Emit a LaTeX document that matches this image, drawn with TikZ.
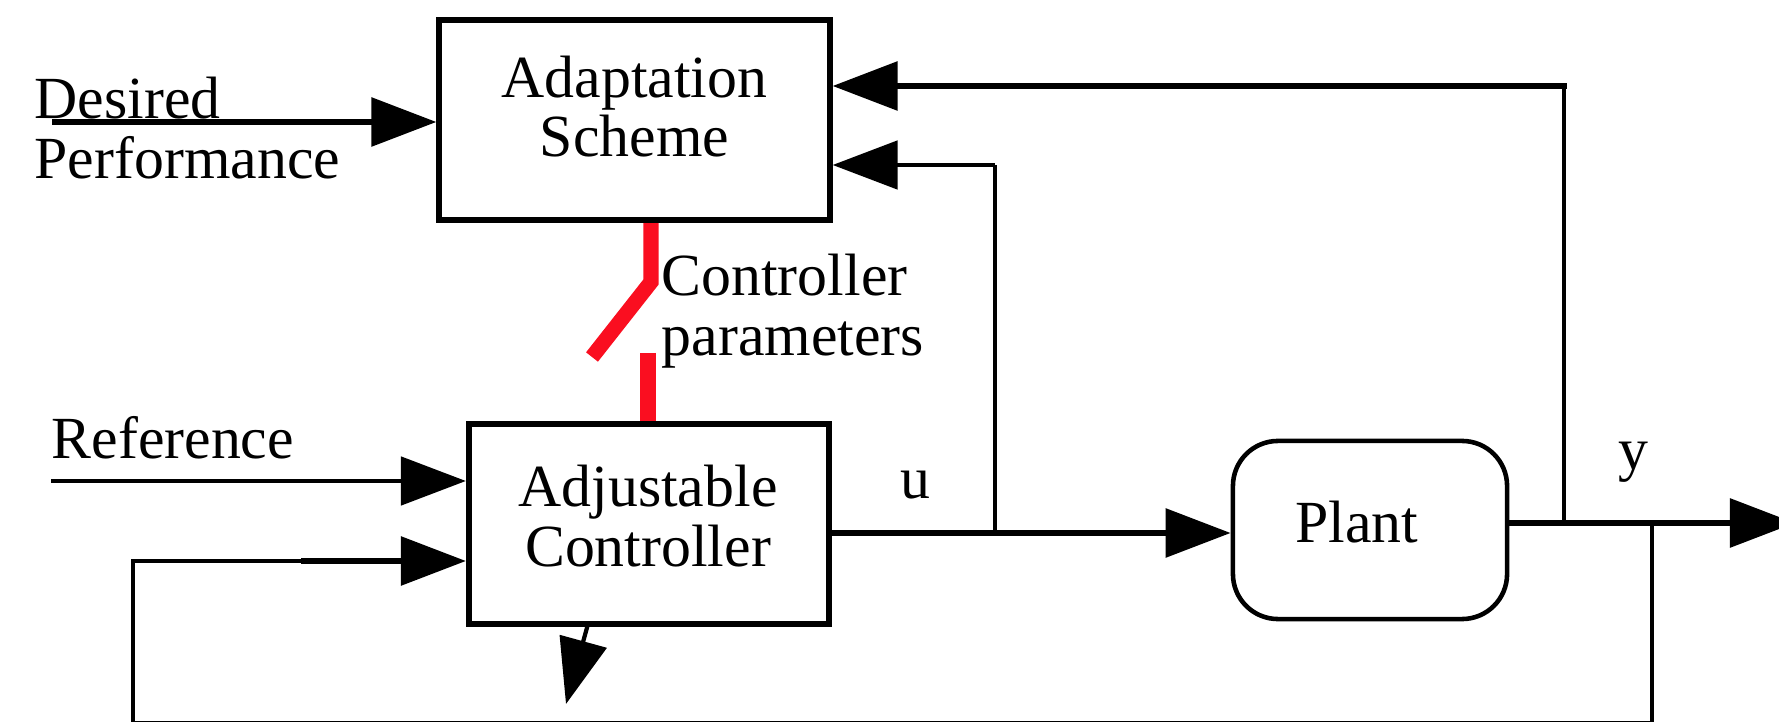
\documentclass[tikz,border=0pt]{standalone}
\usepackage{fontspec}
\setmainfont{Liberation Serif}
\usetikzlibrary{arrows.meta}
\definecolor{switchred}{RGB}{250,14,32}
\begin{document}
\begin{tikzpicture}[x=0.01cm,y=-0.01cm,
  every node/.style={inner sep=0pt, font=\fontsize{17}{17}\selectfont},
  >={Triangle[length=6.5mm,width=4.8mm]},
  blockbox/.style={draw, line width=1.7pt, minimum width=3.9cm, minimum height=2cm},
  plantbox/.style={draw, line width=1.3pt, rounded corners=0.45cm,
    minimum width=2.74cm, minimum height=1.78cm},
  heavy/.style={line width=1.7pt},
  medium/.style={line width=1.4pt},
  light/.style={line width=1.2pt},
  redline/.style={draw=switchred, line width=4.3pt, line cap=butt}
]
\useasboundingbox[fill=white] (0,0) rectangle (1779,722);

% blocks
\node[blockbox] (adapt) at (634.5,120) {};
\node[align=center] (adapttxt) at (634.5,106.5) {Adaptation\\Scheme};
\node[blockbox, minimum width=3.6cm] (ctrl) at (649,524) {};
\node[align=center] (ctrltxt) at (648,516) {Adjustable\\Controller};
\node[plantbox] (plant) at (1370,530) {};
\node[anchor=base] (planttxt) at (1357,543) {Plant};

% labels
\node[anchor=north west, align=left] (desired) at (34,76.5) {Desired\\Performance};
\node[anchor=north west, align=left] (ctrlpar) at (661,253.5) {Controller\\parameters};
\node[anchor=base west] (reflbl) at (51,459) {Reference};
\node[anchor=base] (ulbl) at (915,499) {u};
\node[anchor=base] (ylbl) at (1633,470) {y};

% connection points
\coordinate (dpin) at (52,122);
\coordinate (refin) at (51,481);
\coordinate (ujn) at (995,533);
\coordinate (ucorner) at (995,165);
\coordinate (yjn) at (1564,523);
\coordinate (ycorner) at (1564,86);
\coordinate (yout) at (1795,523);
\coordinate (fbjn) at (1652,523);
\coordinate (fbbr) at (1652,723.5);
\coordinate (fbbl) at (133,723.5);
\coordinate (fbtl) at (133,561);
\coordinate (fbthick) at (301,561);
\coordinate (skewtop) at (588,624);
\coordinate (skewtip) at (566,704);
\coordinate (swbend) at (651,282);
\coordinate (swend) at (592,357);
\coordinate (swlow) at (648,353);

% inputs
\draw[heavy,->] (dpin) -- (dpin -| adapt.west);
\draw[medium,->] (refin) -- (refin -| ctrl.west);

% control signal u
\draw[heavy,->] (ctrl.east |- ujn) -- (plant.west |- ujn);
\draw[light] (ujn) -- (ucorner);
\draw[medium,->] (ucorner) -- (ucorner -| adapt.east);

% plant output y
\draw[heavy,->] (plant.east |- yjn) -- (yout);
\draw[light] (yjn) -- (ycorner);
\draw[heavy,->,line cap=rect] (ycorner) -- (ycorner -| adapt.east);

% feedback to the controller
\draw[light] (fbjn) -- (fbbr) -- (fbbl) -- (fbtl) -- (fbthick);
\draw[heavy,->] (fbthick) -- (fbthick -| ctrl.west);

% controller side output
\draw[light,->] (skewtop) -- (skewtip);

% parameter switch
\draw[redline] (adapt.south -| swbend) -- (swbend) -- (swend);
\draw[redline] (swlow) -- (swlow |- ctrl.north);
\end{tikzpicture}
\end{document}
